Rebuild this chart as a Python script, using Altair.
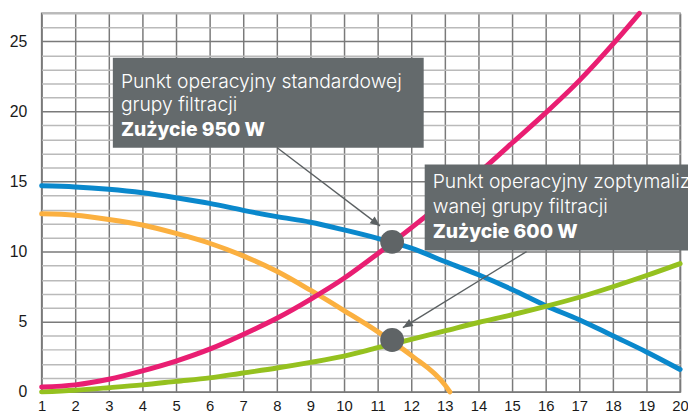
import altair as alt
import pandas as pd

# ---- data ----
x_vals = list(range(1, 21))
blue_y = [14.7, 14.62, 14.45, 14.2, 13.85, 13.45, 12.95, 12.5, 12.1, 11.55,
          10.95, 10.25, 9.3, 8.35, 7.3, 6.15, 5.15, 4.0, 2.85, 1.6]
orange_x = [1, 2, 3, 4, 5, 6, 7, 8, 9, 10, 11, 12, 13, 13.15]
orange_y = [12.7, 12.6, 12.3, 11.9, 11.3, 10.6, 9.7, 8.6, 7.25, 5.8, 4.3, 2.6, 0.5, 0.0]
pink_x = [1, 2, 3, 4, 5, 6, 7, 8, 9, 10, 11, 12, 13, 14, 15, 16, 17, 18, 18.79]
pink_y = [0.35, 0.5, 0.9, 1.5, 2.2, 3.05, 4.1, 5.25, 6.6, 8.1, 9.85, 11.7, 13.6,
          15.6, 17.75, 19.9, 22.2, 24.8, 27.0]
green_y = [0.0, 0.12, 0.3, 0.5, 0.75, 1.0, 1.35, 1.7, 2.1, 2.55, 3.15, 3.75,
           4.35, 4.95, 5.5, 6.1, 6.75, 7.5, 8.3, 9.15]

op_x = [11.43, 11.43]
op_y = [10.7, 3.7]

x_ticks = [1 + 0.5 * i for i in range(39)]
y_ticks = list(range(0, 28))

box_x = [3.12, 12.40]
box_x2 = [12.37, 20.45]
box_y = [23.83, 16.21]
box_y2 = [17.41, 10.08]

text_lines = ["Punkt operacyjny standardowej", "grupy filtracji", "Zużycie 950 W",
              "Punkt operacyjny zoptymaliz", "wanej grupy filtracji", "Zużycie 600 W"]
text_x = [3.36, 3.36, 3.36, 12.64, 12.64, 12.64]
text_y = [21.71, 20.02, 18.26, 14.52, 12.76, 11.0]
text_bold = [False, False, True, False, False, True]

arrow_x = [8.01, 15.43]
arrow_y = [17.41, 10.01]
arrow_x2 = [11.07, 11.75]
arrow_y2 = [11.84, 4.58]
arrow_angle = [127.2, 238.4]

# ---- tables ----
rows = []
for x, y in zip(x_vals, blue_y):
    rows.append({"x": x, "y": y, "s": "blue"})
for x, y in zip(orange_x, orange_y):
    rows.append({"x": x, "y": y, "s": "orange"})
for x, y in zip(x_vals, green_y):
    rows.append({"x": x, "y": y, "s": "green"})
for x, y in zip(pink_x, pink_y):
    rows.append({"x": x, "y": y, "s": "pink"})
curves = pd.DataFrame(rows)

ops = pd.DataFrame({"x": op_x, "y": op_y})
boxes = pd.DataFrame({"x": box_x, "x2": box_x2, "y": box_y, "y2": box_y2})
texts = pd.DataFrame({"x": text_x, "y": text_y, "t": text_lines, "b": text_bold})
arrows = pd.DataFrame({"x": arrow_x, "y": arrow_y, "x2": arrow_x2, "y2": arrow_y2, "a": arrow_angle})

xs = alt.Scale(domain=[1, 20], nice=False, zero=False)
ys = alt.Scale(domain=[0, 27], nice=False, zero=False)

x_axis = alt.Axis(
    values=x_ticks, title=None, domain=False, ticks=False, format="d",
    labelExpr="datum.value % 1 === 0 ? datum.label : ''",
    labelOverlap=False, labelFlush=False, labelPadding=7, labelBound=False,
    labelFont="Liberation Sans", labelFontSize=15, labelColor="#1a1a1a",
    gridColor={"condition": {"test": "datum.value % 1 === 0", "value": "#7a7a7a"}, "value": "#bababa"},
    gridWidth=1.5, gridOpacity=1,
)
y_axis = alt.Axis(
    values=y_ticks, title=None, domain=False, ticks=False, format="d",
    labelExpr="datum.value % 5 === 0 ? datum.label : ''",
    labelOverlap=False, labelFlush=False, labelPadding=15, labelBound=False,
    labelFont="Liberation Sans", labelFontSize=16, labelColor="#1a1a1a",
    gridColor={"condition": {"test": "datum.value % 5 === 0", "value": "#7a7a7a"}, "value": "#bababa"},
    gridWidth=1.5, gridOpacity=1,
)


def X(field):
    return alt.X(field, scale=xs, axis=x_axis, title=None)


def Y(field):
    return alt.Y(field, scale=ys, axis=y_axis, title=None)


lines = alt.Chart(curves).mark_line(strokeWidth=5, interpolate="monotone", strokeCap="round").encode(
    x=X("x:Q"),
    y=Y("y:Q"),
    color=alt.Color("s:N", scale=alt.Scale(domain=["blue", "orange", "green", "pink"],
                                           range=["#0a88cc", "#fbb040", "#95c11f", "#e91e72"]),
                    legend=None),
    order=alt.Order("x:Q"),
    detail="s:N",
)

circles = alt.Chart(ops).mark_point(filled=True, size=580, opacity=1, color="#5f6466", shape="circle").encode(
    x=X("x:Q"), y=Y("y:Q")
)

rects = alt.Chart(boxes).mark_rect(color="#646a6c", clip=False, opacity=1).encode(
    x=X("x:Q"), x2="x2:Q", y=Y("y:Q"), y2="y2:Q"
)

txt_light = alt.Chart(texts).transform_filter("!datum.b").mark_text(
    align="left", baseline="alphabetic", font="Inter", fontSize=19.5, fontWeight=300,
    color="#ffffff", clip=False
).encode(x=X("x:Q"), y=Y("y:Q"), text="t:N")

txt_bold = alt.Chart(texts).transform_filter("datum.b").mark_text(
    align="left", baseline="alphabetic", font="Inter", fontSize=19.5, fontWeight=800,
    color="#ffffff", clip=False
).encode(x=X("x:Q"), y=Y("y:Q"), text="t:N")

arrow_lines = alt.Chart(arrows).mark_rule(color="#5b6062", strokeWidth=1.4, clip=False).encode(
    x=X("x:Q"), y=Y("y:Q"), x2="x2:Q", y2="y2:Q"
)
arrow_heads = alt.Chart(arrows).mark_point(
    filled=True, opacity=1, color="#5b6062", size=400,
    shape="M0,0L-0.42,1L0.42,1Z", clip=False
).encode(x=X("x2:Q"), y=Y("y2:Q"), angle=alt.Angle("a:Q", scale=None))

chart = alt.layer(lines, circles, rects, txt_light, txt_bold, arrow_lines, arrow_heads).properties(
    width=646, height=383,
    autosize=alt.AutoSizeParams(type="none"),
    padding={"left": 34, "top": 3, "right": 8, "bottom": 22},
).configure_view(stroke="#7a7a7a", strokeWidth=1.5)

chart.save("out.html", embed_options={"renderer": "svg", "actions": False})
